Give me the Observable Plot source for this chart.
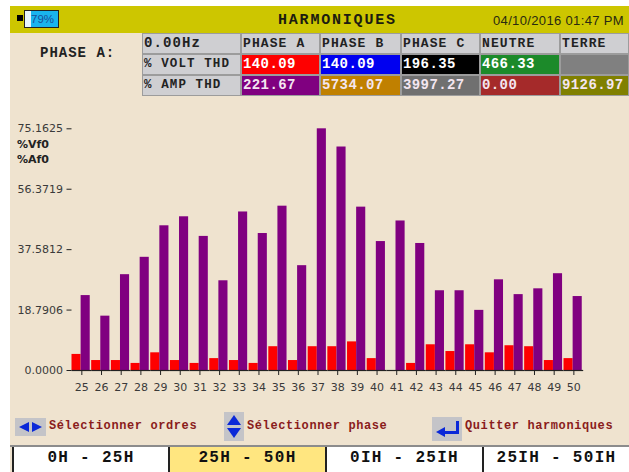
<!DOCTYPE html>
<html><head><meta charset="utf-8">
<script src="https://cdn.jsdelivr.net/npm/d3@7"></script>
<script src="https://cdn.jsdelivr.net/npm/@observablehq/plot@0.6"></script>
<style>
html,body{margin:0;padding:0;background:#fff;width:629px;height:472px;overflow:hidden}
#s{position:absolute;left:0;top:0;width:629px;height:472px;overflow:hidden}
.a{position:absolute;white-space:nowrap}
.m{font-family:"Liberation Mono",monospace;font-weight:700}
.c{font-size:13px;letter-spacing:1.1px;line-height:19px;box-sizing:border-box;padding-left:1px;border:1px solid #9c9c9c;color:#222}
.b{top:446px;height:26px;font-size:16px;letter-spacing:1.3px;line-height:23px;text-align:center;box-sizing:border-box;border-left:2px solid #222;color:#111}
.h{font-size:12px;letter-spacing:.6px;color:#8a1c1c;line-height:14px}
.i{background:#c4c4c8}
.t{position:absolute;width:0;height:0;border-style:solid;border-color:transparent}
</style></head><body><div id="s"></div>
<script>
const orders=[25,26,27,28,29,30,31,32,33,34,35,36,37,38,39,40,41,42,43,44,45,46,47,48,49,50];
const voltPct=[5.0,3.1,3.1,2.2,5.5,3.1,2.2,3.7,3.1,2.2,7.4,3.1,7.4,7.4,8.9,3.7,0,2.2,8.0,5.9,8.0,5.5,7.7,7.4,3.1,3.7];
const ampPct=[23.3,16.9,29.8,35.2,45.0,47.8,41.7,27.9,49.3,42.6,51.1,32.6,75.16,69.5,50.8,40.1,46.5,39.5,24.8,24.8,18.7,28.2,23.6,25.4,30.1,23.0];
const yTicks=[0,18.7906,37.5812,56.3719,75.1625];
const columns=["PHASE A","PHASE B","PHASE C","NEUTRE","TERRE"];
const voltRow=["140.09","140.09","196.35","466.33",""];
const ampRow=["221.67","5734.07","3997.27","0.00","9126.97"];
const voltColors=["#fe0000","#0000f0","#000000","#1c8a2a","#808080"];
const ampColors=["#800080","#c08000","#707070","#a52a2a","#808000"];
const buttons=["0H - 25H","25H - 50H","0IH - 25IH","25IH - 50IH"];

const s=document.getElementById("s");
function box(x,y,w,h,bg,cls,txt,style){const d=document.createElement("div");d.className="a "+(cls||"");
 d.style.cssText=`left:${x}px;top:${y}px;width:${w}px;height:${h}px;`+(bg?`background:${bg};`:"")+(style||"");if(txt)d.textContent=txt;s.appendChild(d);return d;}
function tri(x,y,dir,size,len,col){const d=document.createElement("div");d.className="t";
 const c=col||"#0a28d8";
 let st=`left:${x}px;top:${y}px;`;
 if(dir=="l")st+=`border-width:${size}px ${len}px ${size}px 0;border-right-color:${c};`;
 if(dir=="r")st+=`border-width:${size}px 0 ${size}px ${len}px;border-left-color:${c};`;
 if(dir=="u")st+=`border-width:0 ${size}px ${len}px ${size}px;border-bottom-color:${c};`;
 if(dir=="d")st+=`border-width:${len}px ${size}px 0 ${size}px;border-top-color:${c};`;
 d.style.cssText=st;s.appendChild(d);}

box(10,6,619,466,"#efe3cf");
box(10,6,619,27,"#cdc600");
// battery
box(17,15,6,6,"#000");
box(24,10,35,18,"#19b4ee","","", "border:1px solid #222;box-sizing:border-box;");
box(25,11,6,16,"#e8f6fc");
box(31,11,26,16,"", "", "79%","font:11.5px 'Liberation Sans',sans-serif;color:#1a4f9a;line-height:17px;");
box(278,12,125,18,"","m","HARMONIQUES","font-size:15px;letter-spacing:1.8px;color:#1c1c10;line-height:17px;");
box(493,13,150,16,"","","04/10/2016 01:47 PM","font:13px 'Liberation Sans',sans-serif;letter-spacing:.35px;color:#2a2a10;line-height:16px;");
box(40,45,90,16,"","m","PHASE A:","font-size:14px;letter-spacing:1px;color:#222;line-height:16px;");

// table
const xs=[142,241,320,401,480,560,629];
const cell="#cfcfd2";
const rowY=[33,54,75],rowH=21;
box(xs[0],rowY[0],xs[1]-xs[0],rowH,cell,"m c","0.00Hz","font-size:14px;");
box(xs[0],rowY[1],xs[1]-xs[0],rowH,cell,"m c","% VOLT THD","font-size:12.5px;");
box(xs[0],rowY[2],xs[1]-xs[0],rowH,cell,"m c","% AMP  THD","font-size:12.5px;");
columns.forEach((c,i)=>{
 const x=xs[i+1],w=xs[i+2]-x;
 box(x,rowY[0],w,rowH,cell,"m c",c);
 box(x,rowY[1],w,rowH,voltColors[i],"m c",voltRow[i],"color:#fff;font-size:14px;letter-spacing:.4px;");
 box(x,rowY[2],w,rowH,ampColors[i],"m c",ampRow[i],"color:#f4e6f0;font-size:14px;letter-spacing:.4px;");
});

// chart labels
box(17,138,40,14,"","","%Vf0","font:bold 11px 'DejaVu Sans',sans-serif;color:#222;line-height:14px;");
box(17,153,40,14,"","","%Af0","font:bold 11px 'DejaVu Sans',sans-serif;color:#222;line-height:14px;");

// footer hints
box(15,418,31,18,null,"i");
tri(19,422,"l",5,10);tri(32,422,"r",5,10);
box(49,419,150,14,"","m h","Sélectionner ordres");
box(224,412,20,29,null,"i");
tri(227,415,"u",7,10);tri(227,428,"d",7,10);
box(247,419,150,14,"","m h","Sélectionner phase");
box(432,417,30,24,null,"i");
box(456,421,2.5,12,"#0a28d8");box(443,431,15.5,2.5,"#0a28d8");tri(436,427,"l",5.5,9);
box(465,419,160,14,"","m h","Quitter harmoniques");

// buttons
box(10,445,619,2,"#8c8c8c");
box(12,447,156,25,"#fff","m b",buttons[0],"top:447px;");
box(168,447,157,25,"#ffe680","m b",buttons[1],"top:447px;");
box(325,447,157,25,"#fff","m b",buttons[2],"top:447px;");
box(482,447,147,25,"#fff","m b",buttons[3],"top:447px;");

const rows=orders.flatMap((o,i)=>[{o,k:"V",v:voltPct[i]},{o,k:"A",v:ampPct[i]}]);
const chart=Plot.plot({
 width:629,height:472,
 marginTop:128.3,marginBottom:102,marginLeft:71.5,marginRight:45.8,
 style:{background:"transparent",fontFamily:"'DejaVu Sans',sans-serif",fontSize:"11px",color:"#3a3a3a"},
 fx:{domain:orders,padding:0,round:false,label:null},
 x:{domain:["V","A"],paddingInner:0,paddingOuter:0.08,align:0,round:false,axis:null},
 y:{domain:[0,75.1625],label:null},
 color:{domain:["V","A"],range:["#fe0000","#800080"]},
 marks:[
  Plot.barY(rows,{fx:"o",x:"k",y:"v",fill:"k"}),
  Plot.ruleY([0],{stroke:"#222",strokeWidth:1.2}),
  Plot.axisFx({anchor:"bottom",label:null,tickSize:5,tickPadding:8,stroke:"#222",fontSize:11}),
  Plot.axisY({ticks:yTicks,tickFormat:d3.format(".4f"),tickSize:5,tickPadding:4,label:null,stroke:"#222",fontSize:11})
 ]
});
chart.style.position="absolute";chart.style.left="0";chart.style.top="0";
s.appendChild(chart);
</script></body></html>
